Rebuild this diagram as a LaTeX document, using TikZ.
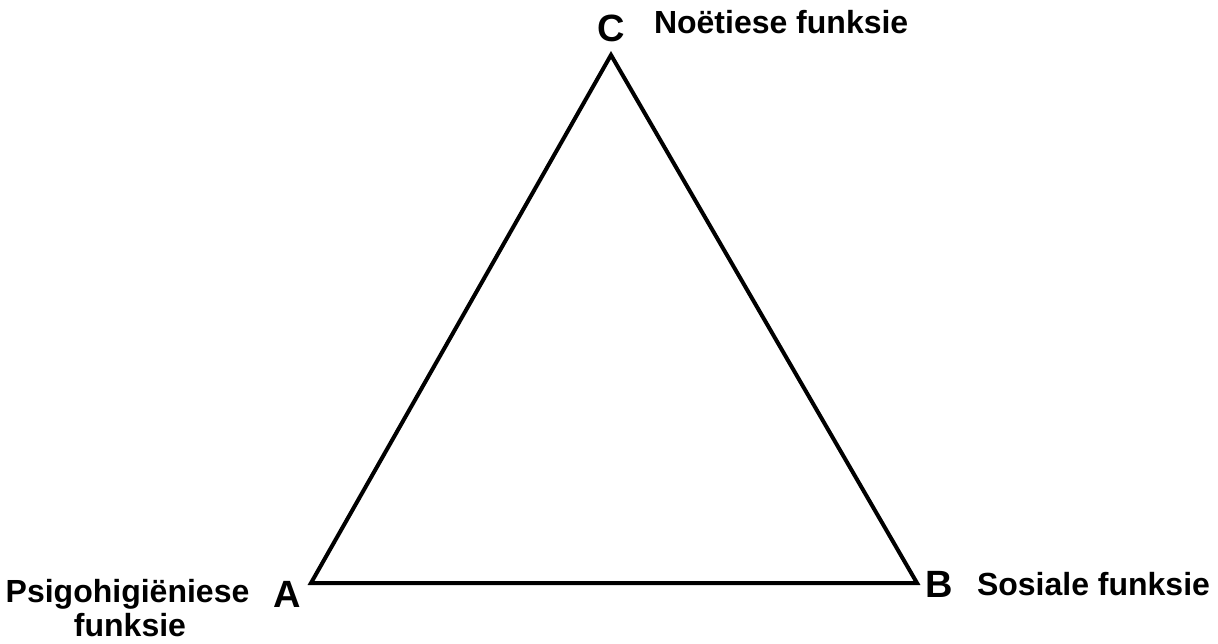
\documentclass[tikz,border=0pt]{standalone}
\usepackage{fontspec}
\setmainfont{Liberation Sans}
\begin{document}
\begin{tikzpicture}[x=1pt,y=-1pt,
  lbl/.style={inner sep=0pt,outer sep=0pt,font=\fontsize{32}{36}\selectfont\bfseries},
  vtx/.style={inner sep=0pt,outer sep=0pt,font=\fontsize{38}{42}\selectfont\bfseries},
  edge/.style={line width=4pt,line join=miter}]
\useasboundingbox (0,0) rectangle (1218,643);
\coordinate (A) at (311,583);
\coordinate (B) at (917,583);
\coordinate (C) at (611,55);
\draw[edge] (A) -- (B) -- (C) -- cycle;
\node[vtx,anchor=base west] (lC) at (597,41) {C};
\node[lbl,anchor=base west] (tC) at (654,33) {Noëtiese funksie};
\node[vtx,anchor=base west] (lA) at (273,607) {A};
\node[lbl,anchor=base] (tA1) at (127.5,602) {Psigohigiëniese};
\node[lbl,anchor=base] (tA2) at (130,636) {funksie};
\node[vtx,anchor=base west] (lB) at (925,597) {B};
\node[lbl,anchor=base west] (tB) at (977,595) {Sosiale funksie};
\end{tikzpicture}
\end{document}
